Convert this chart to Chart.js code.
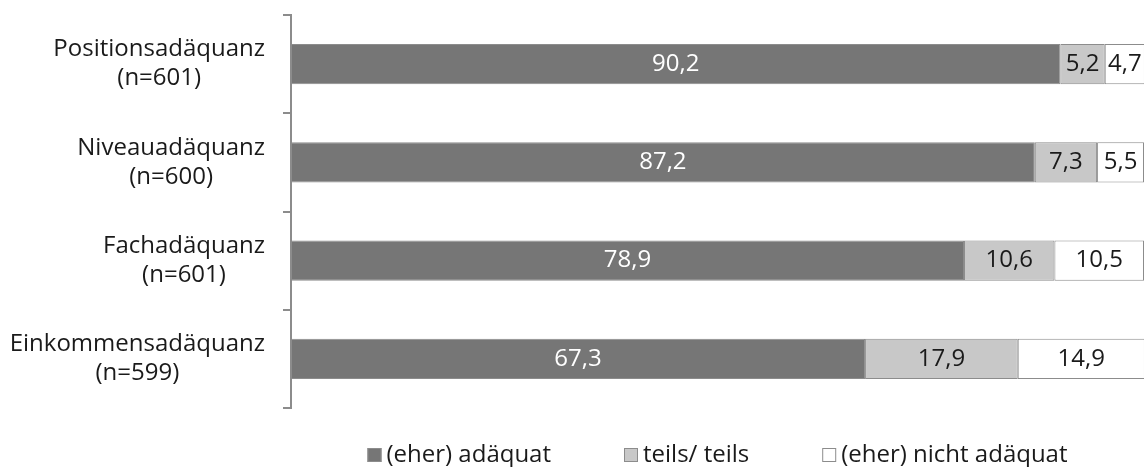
<!DOCTYPE html>
<html lang="de">
<head>
<meta charset="utf-8">
<title>Adäquanz der Beschäftigung</title>
<script src="https://cdn.jsdelivr.net/npm/chart.js@4/dist/chart.umd.min.js"></script>
<style>
  html, body { margin: 0; padding: 0; background: #fff; }
  .chart-container { width: 1144px; height: 467px; position: relative; }
</style>
</head>
<body>
<div class="chart-container">
  <canvas id="chart"></canvas>
</div>
<script>
const categories = [
  ['Positionsadäquanz', '(n=601)'],
  ['Niveauadäquanz', '(n=600)'],
  ['Fachadäquanz', '(n=601)'],
  ['Einkommensadäquanz', '(n=599)']
];
const seriesNames = ['(eher) adäquat', 'teils/ teils', '(eher) nicht adäquat'];
const adaequat = [90.2, 87.2, 78.9, 67.3];
const teilsTeils = [5.2, 7.3, 10.6, 17.9];
const nichtAdaequat = [4.7, 5.5, 10.5, 14.9];

const textColor = '#1a1a1a';
const lineColor = '#8c8c8c';
const FONT = "24px 'Open Sans'";

Chart.defaults.font.family = "'Open Sans', sans-serif";
Chart.defaults.font.size = 24;

function formatValue(v) {
  return v.toFixed(1).replace('.', ',');
}

// values in the middle of each segment
const valueLabels = {
  id: 'valueLabels',
  afterDatasetsDraw(chart) {
    const ctx = chart.ctx;
    ctx.save();
    ctx.font = FONT;
    ctx.textAlign = 'center';
    ctx.textBaseline = 'middle';
    chart.data.datasets.forEach((ds, i) => {
      chart.getDatasetMeta(i).data.forEach((bar, j) => {
        const { x, y, base } = bar.getProps(['x', 'y', 'base'], true);
        ctx.fillStyle = i === 0 ? '#ffffff' : textColor;
        ctx.fillText(formatValue(ds.data[j]), (x + base) / 2, y);
      });
    });
    ctx.restore();
  }
};

// category labels: each block right-aligned to the axis, lines centred within the block
const categoryLabels = {
  id: 'categoryLabels',
  afterDraw(chart) {
    const { ctx, chartArea } = chart;
    const yScale = chart.scales.y;
    const lineHeight = 29;
    ctx.save();
    ctx.font = FONT;
    ctx.textAlign = 'center';
    ctx.textBaseline = 'middle';
    ctx.fillStyle = textColor;
    chart.data.labels.forEach((lines, i) => {
      const widest = Math.max(...lines.map(l => ctx.measureText(l).width));
      const cx = chartArea.left - 26 - widest / 2;
      const cy = yScale.getPixelForTick(i);
      lines.forEach((line, k) => {
        ctx.fillText(line, cx, cy + (k - (lines.length - 1) / 2) * lineHeight);
      });
    });
    ctx.restore();
  }
};

// legend under the plot, centred on the chart area
const bottomLegend = {
  id: 'bottomLegend',
  afterDraw(chart) {
    const { ctx, chartArea } = chart;
    ctx.save();
    ctx.font = FONT;
    ctx.textBaseline = 'middle';
    const box = 14, gap = 5, spacing = 73;
    const widths = chart.data.datasets.map(ds => box + gap + ctx.measureText(ds.label).width);
    const total = widths.reduce((a, b) => a + b, 0) + spacing * (widths.length - 1);
    let x = (chartArea.left + chartArea.right) / 2 - total / 2;
    const y = 455;
    chart.data.datasets.forEach((ds, i) => {
      ctx.fillStyle = ds.backgroundColor;
      ctx.fillRect(x, y - 7, box, box);
      ctx.strokeStyle = ds.borderColor;
      ctx.lineWidth = 1;
      ctx.strokeRect(x + 0.5, y - 6.5, box - 1, box - 1);
      ctx.fillStyle = textColor;
      ctx.fillText(ds.label, x + box + gap, y);
      x += widths[i] + spacing;
    });
    ctx.restore();
  }
};

const ctx = document.getElementById('chart').getContext('2d');
new Chart(ctx, {
  type: 'bar',
  data: {
    labels: categories,
    datasets: [
      { label: seriesNames[0], data: adaequat, backgroundColor: '#767676', borderColor: '#8c8c8c' },
      { label: seriesNames[1], data: teilsTeils, backgroundColor: '#c8c8c8', borderColor: '#8c8c8c' },
      { label: seriesNames[2], data: nichtAdaequat, backgroundColor: '#ffffff', borderColor: '#8c8c8c' }
    ]
  },
  options: {
    indexAxis: 'y',
    responsive: true,
    maintainAspectRatio: false,
    animation: false,
    datasets: {
      bar: {
        barPercentage: 0.41,
        categoryPercentage: 1,
        borderWidth: 1,
        borderSkipped: false
      }
    },
    layout: {
      padding: { top: 15, bottom: 59, left: 0, right: 0 }
    },
    plugins: {
      legend: { display: false },
      tooltip: { enabled: false }
    },
    scales: {
      x: {
        stacked: true,
        min: 0,
        max: 100,
        display: false
      },
      y: {
        stacked: true,
        afterFit(scale) {
          // labels are drawn by categoryLabels inside their bands
          scale.width = 291;
          scale.paddingTop = 0;
          scale.paddingBottom = 0;
        },
        border: { display: true, color: lineColor, width: 2 },
        grid: {
          display: true,
          offset: true,
          drawOnChartArea: false,
          drawTicks: true,
          tickLength: 8,
          color: lineColor,
          lineWidth: 2
        },
        ticks: { display: false }
      }
    }
  },
  plugins: [valueLabels, categoryLabels, bottomLegend]
});
</script>
</body>
</html>
